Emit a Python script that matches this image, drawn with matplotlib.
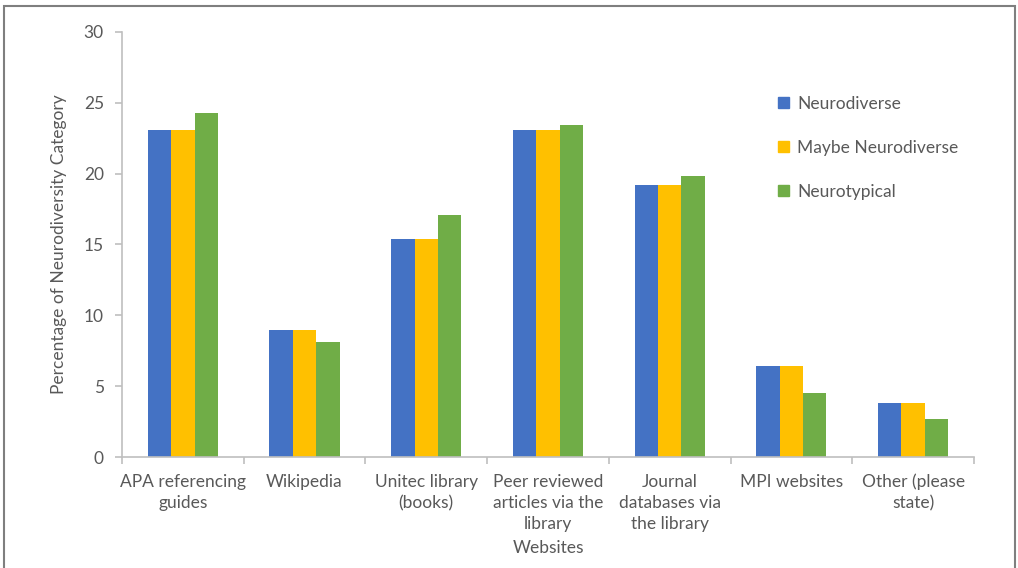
import numpy as np
import matplotlib
matplotlib.use("Agg")
import matplotlib.pyplot as plt
from matplotlib.patches import Patch, Rectangle

plt.rcParams['font.family'] = ['Lato', 'DejaVu Sans']

categories = ["APA referencing\nguides", "Wikipedia", "Unitec library\n(books)",
              "Peer reviewed\narticles via the\nlibrary", "Journal\ndatabases via\nthe library",
              "MPI websites", "Other (please\nstate)"]
series_names = ["Neurodiverse", "Maybe Neurodiverse", "Neurotypical"]
neurodiverse = [23.1, 9.0, 15.4, 23.1, 19.2, 6.4, 3.8]
maybe_neurodiverse = [23.1, 9.0, 15.4, 23.1, 19.2, 6.4, 3.8]
neurotypical = [24.3, 8.1, 17.1, 23.4, 19.8, 4.5, 2.7]
colors = ["#4472C4", "#FFC000", "#70AD47"]

text_col = "#595959"
axis_col = "#BFBFBF"

fig = plt.figure(figsize=(10.18, 5.68), dpi=100)
ax = fig.add_axes([0.1198, 0.1954, 0.8370, 0.7483])

x = np.arange(len(categories))
w = 0.192
for i, vals in enumerate([neurodiverse, maybe_neurodiverse, neurotypical]):
    ax.bar(x + (i - 1) * w, vals, width=w, color=colors[i], label=series_names[i])

ax.set_xlim(-0.5, len(categories) - 0.5)
ax.set_ylim(0, 30)
ax.set_yticks(range(0, 31, 5))

# category labels centred, tick marks between categories
ax.set_xticks(x)
ax.set_xticklabels(categories, linespacing=1.4)
ax.set_xticks(np.arange(-0.5, len(categories)), minor=True)
ax.tick_params(axis='x', which='major', length=0, pad=12, labelsize=12.5, labelcolor=text_col)
ax.tick_params(axis='x', which='minor', length=5, color=axis_col, width=1.2)
ax.tick_params(axis='y', length=5, color=axis_col, width=1.2, labelsize=12.5,
               labelcolor=text_col, pad=8)

for s in ['top', 'right']:
    ax.spines[s].set_visible(False)
for s in ['left', 'bottom']:
    ax.spines[s].set_color(axis_col)
    ax.spines[s].set_linewidth(1.2)

ax.set_ylabel("Percentage of Neurodiversity Category", fontsize=12.5, color=text_col, labelpad=12)
ax.set_xlabel("Websites", fontsize=12.5, color=text_col, labelpad=6)

handles = [Patch(color=c) for c in colors]
ax.legend(handles, series_names, loc='upper left', bbox_to_anchor=(0.752, 0.886),
          frameon=False, fontsize=12.5, labelcolor=text_col, handlelength=0.6,
          handleheight=0.6, handletextpad=0.5, labelspacing=1.6)

fig.patches.append(Rectangle((4 / 1018, -0.1), 1011 / 1018, (562 / 568) + 0.1,
                             transform=fig.transFigure, fill=False,
                             edgecolor="#7F7F7F", linewidth=1.5))

fig.savefig("out.png", dpi=100)
